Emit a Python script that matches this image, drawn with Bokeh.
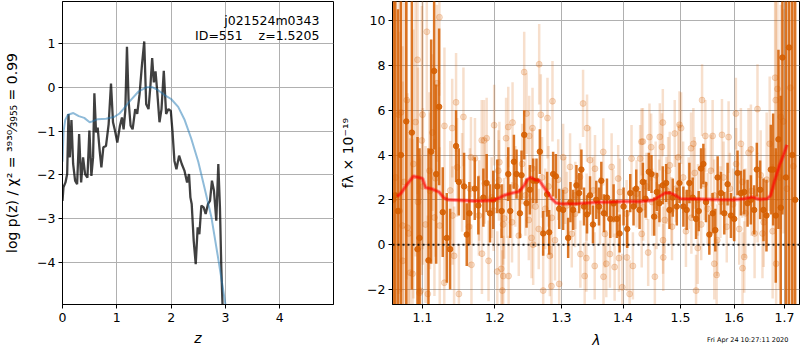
import numpy as np
from bokeh.plotting import figure
from bokeh.layouts import row
from bokeh.models import Range1d, FixedTicker, CustomJSTickFormatter, Label, Span, ColumnDataSource
from bokeh.embed import file_html
from bokeh.resources import INLINE

FONT = "DejaVu Sans"

# ---------------- left panel: log p(z) ----------------
z_fit = [0.000, 0.018, 0.055, 0.086, 0.110, 0.135, 0.165, 0.196, 0.232, 0.269,
         0.306, 0.343, 0.379, 0.416, 0.459, 0.495, 0.532, 0.563, 0.587, 0.618,
         0.648, 0.685, 0.716, 0.752, 0.801, 0.850, 0.893, 0.930, 0.966, 1.009,
         1.058, 1.095, 1.125, 1.156, 1.187, 1.217, 1.254, 1.291, 1.339, 1.376,
         1.419, 1.462, 1.505, 1.541, 1.584, 1.621, 1.651, 1.682, 1.713, 1.743,
         1.786, 1.823, 1.865, 1.908, 1.951, 1.994, 2.024, 2.061, 2.098, 2.147,
         2.196, 2.245, 2.294, 2.330, 2.355, 2.379, 2.416, 2.453, 2.489, 2.520,
         2.557, 2.599, 2.636, 2.679, 2.716, 2.752, 2.789, 2.832, 2.869, 2.899,
         2.924, 2.954, 2.985]
logp_fit = [-2.59, -2.28, -2.17, -1.98, -0.61, -1.60, -0.75, -1.75, -2.13, -2.21,
            -1.07, -2.17, -1.60, -1.98, -2.06, -0.99, -2.02, -1.60, -0.14, -1.03,
            -0.92, -1.45, -1.83, -1.37, -1.34, -0.84, 0.08, -0.80, -0.99, -1.26,
            -0.88, -0.69, -0.96, -0.54, 0.92, -0.31, -0.88, -0.96, -0.50, -0.61,
            -0.16, 0.49, 1.04, -0.39, -0.50, 0.07, 0.66, 0.11, 0.36, -0.08,
            -0.80, -0.50, 0.37, -0.61, -0.50, -0.54, -0.99, -1.68, -1.87, -1.56,
            -1.75, -1.90, -2.17, -1.98, -2.51, -2.66, -3.50, -4.03, -3.19, -3.35,
            -2.70, -2.74, -2.89, -2.66, -2.59, -2.13, -2.36, -3.04, -1.75, -2.74,
            -4.10, -5.24, -6.40]

z_prior = [0.00, 0.02, 0.05, 0.10, 0.20, 0.30, 0.40, 0.50, 0.55, 0.65,
           0.80, 0.95, 1.05, 1.12, 1.24, 1.40, 1.55, 1.65, 1.76, 1.88,
           2.00, 2.13, 2.25, 2.37, 2.50, 2.62, 2.74, 2.86, 2.95, 3.00, 3.05]
logp_prior = [-1.70, -1.00, -0.75, -0.63, -0.59, -0.66, -0.70, -0.80, -0.78, -0.73,
              -0.72, -0.68, -0.60, -0.50, -0.32, -0.10, 0.00, 0.00, -0.07, -0.18,
              -0.27, -0.45, -0.75, -1.17, -1.70, -2.32, -2.95, -3.85, -4.55, -4.95, -5.40]

xticks_left = [0, 1, 2, 3, 4]
yticks_left = [-4, -3, -2, -1, 0, 1]

# ---------------- right panel: spectrum ----------------
dark_wave = [1.0620, 1.0645, 1.0680, 1.0718, 1.0787, 1.0860, 1.0934, 1.0960, 1.1079, 1.1115,
             1.1155, 1.1182, 1.1222, 1.1271, 1.1326, 1.1371, 1.1453, 1.1490, 1.1564, 1.1601,
             1.1638, 1.1713, 1.1764, 1.1835, 1.1882, 1.1930, 1.1977, 1.2035, 1.2098, 1.2195,
             1.2224, 1.2278, 1.2317, 1.2367, 1.2391, 1.2431, 1.2466, 1.2516, 1.2566, 1.2616,
             1.2667, 1.2718, 1.2779, 1.2810, 1.2871, 1.2913, 1.2965, 1.3027, 1.3106, 1.3142,
             1.3184, 1.3237, 1.3279, 1.3316, 1.3358, 1.3407, 1.3455, 1.3503, 1.3557, 1.3601,
             1.3639, 1.3682, 1.3732, 1.3787, 1.3842, 1.3897, 1.3942, 1.4009, 1.4071, 1.4122,
             1.4178, 1.4224, 1.4281, 1.4338, 1.4384, 1.4441, 1.4487, 1.4534, 1.4580, 1.4627,
             1.4686, 1.4745, 1.4804, 1.4863, 1.4935, 1.4983, 1.5054, 1.5114, 1.5163, 1.5224,
             1.5285, 1.5334, 1.5377, 1.5420, 1.5469, 1.5531, 1.5593, 1.5643, 1.5687, 1.5750,
             1.5813, 1.5876, 1.5940, 1.6003, 1.6067, 1.6132, 1.6197, 1.6262, 1.6327, 1.6392,
             1.6444, 1.6510, 1.6576, 1.6636, 1.6723, 1.6770, 1.6823, 1.6877, 1.6924, 1.6958,
             1.7030, 1.7094, 1.7160, 1.7220]
dark_flux = [2.0, 2.2, 1.5, 4.0, 5.5, 5.0, -0.2, 0.3, -0.7, 4.15,
             7.75, 3.15, 6.15, 1.45, 0.3, -0.2, 4.4, 2.8, 2.6, 0.45,
             1.4, 2.5, 1.75, 2.1, 2.75, 1.4, 2.0, 2.6, 1.5, 3.15,
             1.5, 3.7, 3.15, 1.4, 3.1, 4.9, 1.85, 2.45, 2.85, 2.85,
             4.15, 0.5, 2.25, 0.55, 3.15, 3.05, 1.6, 1.55, 0.3, 1.9,
             1.55, 2.65, 2.3, 3.35, 1.7, 1.35, 2.2, 0.9, 2.0, 1.7,
             2.85, 1.4, 2.1, 1.15, 1.85, 1.15, 0.5, 1.7, 0.7, 2.3,
             1.7, 2.5, 1.55, 2.8, 2.05, 3.25, 3.15, 1.25, 2.35, 1.85,
             2.65, 2.75, 1.55, 2.1, 1.7, 2.75, 1.7, 1.55, 2.75, 2.1,
             1.15, 1.5, 3.4, 3.6, 1.9, 0.45, 1.4, 0.65, 3.0, 2.3,
             1.4, 2.7, 1.3, 1.15, 3.2, 2.3, 2.35, 1.85, 2.0, 1.55,
             3.35, 2.45, 1.55, 1.3, 3.35, 3.35, 1.3, 4.7, 1.65, 8.35,
             3.0, 8.8, 4.0, 2.0]
dark_err = [15, 12, 9, 8, 9, 7, 5, 4, 5, 5,
            3.5, 4, 3.5, 2.0, 2.0, 1.8, 1.6, 1.5, 1.5, 1.4,
            1.4, 1.4, 1.3, 1.3, 1.3, 1.3, 1.3, 1.2, 1.2, 1.2,
            1.2, 1.2, 1.1, 1.1, 1.1, 1.1, 1.1, 1.1, 1.0, 1.0,
            1.0, 1.0, 1.0, 1.0, 1.0, 1.0, 0.9, 0.9, 0.9, 0.9,
            0.9, 0.9, 0.9, 0.9, 0.85, 0.85, 0.85, 0.85, 0.85, 0.85,
            0.85, 0.85, 0.85, 0.85, 0.85, 0.85, 0.85, 0.85, 0.85, 0.85,
            0.85, 0.85, 0.85, 0.85, 0.85, 0.85, 0.85, 0.85, 0.85, 0.85,
            0.85, 0.85, 0.85, 0.85, 0.85, 0.9, 0.9, 0.9, 0.9, 0.9,
            0.9, 0.9, 0.9, 0.9, 0.9, 0.9, 0.9, 0.95, 0.95, 0.95,
            0.95, 0.95, 1.0, 1.0, 1.0, 1.0, 1.0, 1.05, 1.1, 1.1,
            1.2, 1.3, 1.4, 1.6, 2.0, 2.5, 3.0, 4.0, 5.0, 7.0,
            12, 12, 14, 14]

light_wave = [1.0650, 1.0688, 1.0700, 1.0718, 1.0738, 1.0742, 1.0760, 1.0794, 1.0803, 1.0820,
              1.0838, 1.0869, 1.0880, 1.0908, 1.0934, 1.0940, 1.0960, 1.0974, 1.0991, 1.1000,
              1.1005, 1.1040, 1.1057, 1.1070, 1.1092, 1.1100, 1.1132, 1.1159, 1.1173, 1.1191,
              1.1226, 1.1230, 1.1292, 1.1294, 1.1373, 1.1400, 1.1405, 1.1426, 1.1453, 1.1468,
              1.1492, 1.1536, 1.1555, 1.1633, 1.1645, 1.1660, 1.1667, 1.1716, 1.1771, 1.1775,
              1.1812, 1.1815, 1.1844, 1.1854, 1.1882, 1.1909, 1.1953, 1.1982, 1.1990, 1.2035,
              1.2050, 1.2058, 1.2065, 1.2093, 1.2108, 1.2120, 1.2122, 1.2135, 1.2163, 1.2180,
              1.2195, 1.2200, 1.2250, 1.2258, 1.2300, 1.2350, 1.2400, 1.2431, 1.2450, 1.2466,
              1.2500, 1.2506, 1.2541, 1.2550, 1.2556, 1.2566, 1.2600, 1.2650, 1.2657, 1.2682,
              1.2700, 1.2718, 1.2750, 1.2784, 1.2800, 1.2820, 1.2845, 1.2850, 1.2861, 1.2900,
              1.2950, 1.2965, 1.3027, 1.3058, 1.3085, 1.3136, 1.3163, 1.3215, 1.3220, 1.3295,
              1.3300, 1.3343, 1.3369, 1.3396, 1.3400, 1.3407, 1.3455, 1.3508, 1.3531, 1.3536,
              1.3617, 1.3671, 1.3675, 1.3698, 1.3721, 1.3781, 1.3809, 1.3836, 1.3859, 1.3919,
              1.3931, 1.3948, 1.3987, 1.4060, 1.4065, 1.4111, 1.4144, 1.4167, 1.4230, 1.4291,
              1.4314, 1.4318, 1.4338, 1.4343, 1.4400, 1.4430, 1.4452, 1.4481, 1.4500, 1.4546,
              1.4560, 1.4575, 1.4620, 1.4633, 1.4669, 1.4686, 1.4690, 1.4694, 1.4720, 1.4751,
              1.4780, 1.4809, 1.4839, 1.4850, 1.4898, 1.4920, 1.4960, 1.4983, 1.5013, 1.5050,
              1.5100, 1.5150, 1.5193, 1.5200, 1.5236, 1.5260, 1.5285, 1.5316, 1.5320, 1.5380,
              1.5396, 1.5440, 1.5457, 1.5500, 1.5560, 1.5593, 1.5620, 1.5624, 1.5668, 1.5680,
              1.5740, 1.5769, 1.5800, 1.5860, 1.5895, 1.5920, 1.5980, 1.6035, 1.6040, 1.6100,
              1.6132, 1.6160, 1.6164, 1.6197, 1.6220, 1.6280, 1.6327, 1.6340, 1.6400, 1.6457,
              1.6460, 1.6520, 1.6556, 1.6580, 1.6640, 1.6700, 1.6760, 1.6810, 1.6823, 1.6830,
              1.6857, 1.6900, 1.6924, 1.6980, 1.7050, 1.7120, 1.7180]
light_flux = [3.0, 5.8, 1.5, 5.9, 0.85, -0.72, 2.8, 6.45, 0.76, 0.5,
              -1.25, -1.3, 3.6, 5.47, 8.25, 1.9, -2.15, -2.06, 4.65, 5.8,
              2.6, 0.9, 9.5, -2.2, 3.3, 2.4, 5.0, 1.21, 2.96, 7.2,
              10.15, 0.85, -1.7, 5.3, 2.42, 5.2, 1.3, -0.5, 6.35, 3.45,
              -2.2, 2.78, 5.7, 0.8, 2.5, 3.9, -0.9, 3.85, 1.3, 1.97,
              4.66, -0.4, 4.65, 2.73, 4.75, -0.72, 2.1, 1.52, 5.33, -1.2,
              3.3, 2.87, 3.68, -1.08, -2.05, 0.9, -1.4, 1.17, 4.75, 2.1,
              5.25, -1.4, 1.0, 5.45, 2.6, 0.4, 3.6, 7.7, 2.2, 5.85,
              1.1, 4.85, 0.3, 3.4, 5.2, 0.0, 1.7, 0.7, 8.05, 5.8,
              3.0, -2.05, 1.6, 5.65, 2.6, -0.5, -1.85, 1.2, 6.4, 0.2,
              2.9, -1.75, 3.9, 2.42, 1.75, 3.47, 0.48, 1.38, 2.2, 3.02,
              -0.42, 6.3, -1.4, -0.6, 1.67, 5.2, 3.77, 2.42, -0.95, 3.39,
              1.52, 4.14, -1.43, 0.48, -0.85, -0.42, 3.47, 1.83, -1.0, 2.95,
              -0.6, 2.35, -1.9, 1.38, -0.57, -2.2, 3.84, -0.95, 2.27, 3.84,
              4.59, 0.48, 4.6, 1.67, 2.6, -0.35, 4.8, 4.35, 1.9, -1.43,
              3.1, 1.3, 2.3, 4.81, 4.36, 5.45, 0.2, -0.57, 1.1, 2.42,
              3.3, 3.54, 1.52, 0.8, 4.96, 2.5, 3.9, 5.35, 5.2, 3.0,
              0.6, 2.3, 4.3, 1.2, 4.5, 3.2, -2.05, -0.15, 2.0, 0.9,
              6.45, 2.7, 4.85, 1.6, 3.3, 4.85, 2.2, -0.85, -1.35, 0.2,
              1.9, 4.9, 3.0, 0.8, 4.8, 2.5, 1.8, 5.85, 3.6, 0.7,
              4.5, 2.8, -1.05, -0.55, 1.4, 4.1, 4.25, 2.4, 0.5, 6.05,
              2.1, 3.1, 0.5, 1.0, 2.9, 4.5, 0.6, 7.45, 6.45, -0.85,
              6.95, 3.0, 5.7, 5.5, 2.5, 7.0, 3.5]
# error level of the faint points, read per wavelength band
light_err_edges = [1.08, 1.10, 1.13, 1.16, 1.30, 1.50, 1.62, 1.66, 1.68, 1.70]
light_err_levels = [8.0, 6.0, 3.5, 2.2, 1.8, 1.5, 1.6, 2.0, 3.0, 5.0, 9.0]

model_wave = [1.067, 1.072, 1.080, 1.088, 1.095, 1.100, 1.104, 1.113, 1.122, 1.129,
              1.135, 1.150, 1.170, 1.185, 1.198, 1.207, 1.215, 1.225, 1.235, 1.242,
              1.248, 1.253, 1.260, 1.266, 1.272, 1.278, 1.285, 1.292, 1.300, 1.320,
              1.350, 1.380, 1.400, 1.430, 1.450, 1.458, 1.466, 1.474, 1.482, 1.490,
              1.500, 1.530, 1.560, 1.600, 1.620, 1.635, 1.650, 1.665, 1.672, 1.680,
              1.690, 1.698, 1.705]
model_flux = [2.15, 2.30, 2.70, 3.05, 3.00, 2.95, 2.55, 2.48, 2.35, 2.08,
              2.00, 1.98, 1.95, 1.96, 1.98, 2.10, 2.22, 2.30, 2.37, 2.60,
              2.90, 3.00, 2.88, 2.86, 2.60, 2.35, 2.05, 1.86, 1.82, 1.82,
              1.88, 1.90, 1.93, 1.93, 1.98, 2.08, 2.20, 2.32, 2.30, 2.22,
              2.05, 2.04, 2.02, 2.00, 2.05, 2.12, 2.02, 2.05, 2.20, 2.85,
              3.55, 4.00, 4.45]

xticks_right = [1.1, 1.2, 1.3, 1.4, 1.5, 1.6, 1.7]
yticks_right = [-2, 0, 2, 4, 6, 8, 10]

ORANGE = "#d55e00"

minus_fmt = "return (tick < 0 ? '\u2212' : '') + Math.abs(tick).toString();"


def style(p):
    p.outline_line_color = "black"
    p.outline_line_width = 1
    p.outline_line_alpha = 1
    for ax in p.axis:
        ax.axis_line_color = "black"
        ax.major_tick_out = 4
        ax.major_tick_in = 0
        ax.major_tick_line_color = "black"
        ax.minor_tick_line_color = None
        ax.major_label_text_font = FONT
        ax.major_label_text_font_size = "12.5px"
        ax.major_label_text_color = "black"
        ax.major_label_standoff = 3
        ax.axis_label_text_font = FONT
        ax.axis_label_text_font_size = "14px"
        ax.axis_label_text_color = "black"
    for g in p.grid:
        g.grid_line_color = "#b0b0b0"
        g.grid_line_width = 1
        g.grid_line_alpha = 1


# ---------- left figure ----------
p1 = figure(width=334, height=350, x_range=Range1d(0, 4.99), y_range=Range1d(-4.95, 1.95),
            output_backend="svg", toolbar_location=None, tools="",
            min_border_left=62, min_border_right=1, min_border_top=1, min_border_bottom=46)
style(p1)
p1.xaxis.ticker = FixedTicker(ticks=xticks_left)
p1.yaxis.ticker = FixedTicker(ticks=yticks_left)
p1.xaxis.formatter = CustomJSTickFormatter(code=minus_fmt)
p1.yaxis.formatter = CustomJSTickFormatter(code=minus_fmt)
p1.xaxis.axis_label = "z"
p1.xaxis.axis_label_text_font_style = "italic"
p1.xaxis.major_label_standoff = 4
p1.xaxis.axis_label_standoff = 5
p1.yaxis.axis_label = "log p(z) / χ² = ³⁹³⁰⁄₃₉₅₅ = 0.99"
p1.yaxis.axis_label_text_font_style = "normal"
p1.yaxis.axis_label_standoff = 14

p1.line(z_fit, logp_fit, line_color="black", line_alpha=0.75, line_width=2.3)
p1.line(z_prior, logp_prior, line_color="#1f77b4", line_alpha=0.5, line_width=2)

p1.add_layout(Label(x=4.73, y=1.517, text="j021524m0343", text_align="right",
                    text_baseline="middle", text_font=FONT, text_font_size="12.5px",
                    text_color="black"))
p1.add_layout(Label(x=4.73, y=1.175, text="ID=551\u00a0\u00a0\u00a0\u00a0z=1.5205", text_align="right",
                    text_baseline="middle", text_font=FONT, text_font_size="12.5px",
                    text_color="black"))

# ---------- right figure ----------
p2 = figure(width=466, height=350, x_axis_type="log",
            x_range=Range1d(1.061, 1.731), y_range=Range1d(-2.67, 10.85),
            output_backend="svg", toolbar_location=None, tools="",
            min_border_left=58, min_border_right=1, min_border_top=1, min_border_bottom=46)
style(p2)
p2.xaxis.ticker = FixedTicker(ticks=xticks_right)
p2.xgrid.ticker = FixedTicker(ticks=xticks_right)
p2.yaxis.ticker = FixedTicker(ticks=yticks_right)
p2.xaxis.formatter = CustomJSTickFormatter(code="return tick.toFixed(1);")
p2.yaxis.formatter = CustomJSTickFormatter(code=minus_fmt)
p2.xaxis.major_label_standoff = 4
p2.yaxis.axis_label = "fλ × 10⁻¹⁹"
p2.yaxis.axis_label_text_font_style = "normal"
p2.yaxis.axis_label_standoff = 8

lw = np.array(light_wave)
lf = np.array(light_flux)
le = np.array(light_err_levels)[np.searchsorted(light_err_edges, lw)]
light_src = ColumnDataSource(dict(w=lw, f=lf, lo=lf - le, hi=lf + le))

dw = np.array(dark_wave)
df = np.array(dark_flux)
de = np.array(dark_err)
dark_src = ColumnDataSource(dict(w=dw, f=df, lo=df - de, hi=df + de))

p2.segment(x0="w", y0="lo", x1="w", y1="hi", source=light_src,
           line_color=ORANGE, line_alpha=0.2, line_width=2.5)
p2.scatter(x="w", y="f", source=light_src, marker="circle", size=6,
           fill_color=ORANGE, fill_alpha=0.2, line_color=ORANGE, line_alpha=0.2)

p2.segment(x0="w", y0="lo", x1="w", y1="hi", source=dark_src,
           line_color=ORANGE, line_alpha=0.85, line_width=2.5)
p2.scatter(x="w", y="f", source=dark_src, marker="circle", size=5.5,
           fill_color=ORANGE, fill_alpha=0.85, line_color=ORANGE, line_alpha=0.85)

p2.line(model_wave, model_flux, line_color="red", line_alpha=0.35, line_width=4)
p2.line(model_wave, model_flux, line_color="red", line_alpha=0.55, line_width=2)

p2.add_layout(Span(location=0, dimension="width", line_color="black", line_alpha=0.85,
                   line_width=2, line_dash="2 3"))

# x label and timestamp live in the bottom side panel so they are not clipped to the frame
p2.add_layout(Label(x=1.356, y=-4.276, text="λ", text_align="center",
                    text_baseline="middle", text_font=FONT, text_font_size="14px",
                    text_font_style="italic", text_color="black"), "below")
p2.add_layout(Label(x=1.708, y=-4.276, text="Fri Apr 24 10:27:11 2020", text_align="right",
                    text_baseline="middle", text_font=FONT, text_font_size="6.5px",
                    text_color="black"), "below")

layout = row(p1, p2)
open("out.html", "w").write(file_html(layout, INLINE))
